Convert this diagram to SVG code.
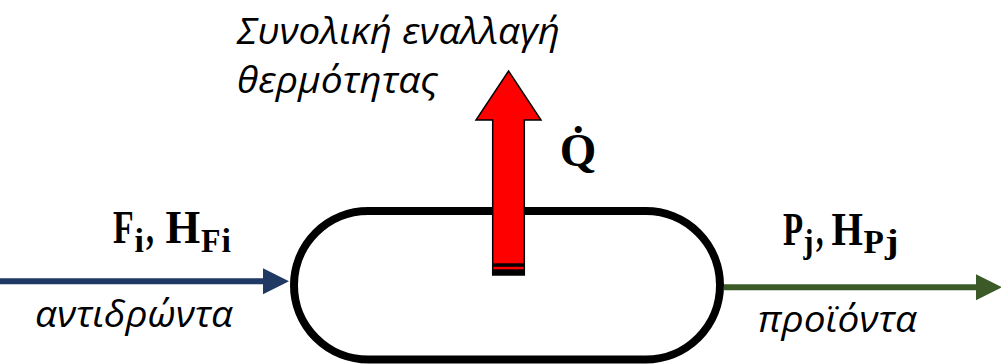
<svg xmlns="http://www.w3.org/2000/svg" width="1001" height="364" viewBox="0 0 1001 364">
  <style>
    .lbl { font-family: "Open Sans", "Noto Sans", "DejaVu Sans", sans-serif; font-style: italic; font-size: 36px; fill: #000; }
    .math { font-family: "Liberation Serif", "DejaVu Serif", serif; font-weight: bold; font-size: 47px; fill: #000; }
    .sub { font-size: 34px; }
  </style>
  <defs>
    <marker id="headBlue" markerUnits="userSpaceOnUse" markerWidth="27" markerHeight="27" refX="0" refY="13" orient="auto">
      <path d="M0,0 L26,13 L0,26 Z" fill="#203864"/>
    </marker>
    <marker id="headGreen" markerUnits="userSpaceOnUse" markerWidth="27" markerHeight="27" refX="0" refY="13" orient="auto">
      <path d="M0,0 L26,13 L0,26 Z" fill="#3B5A27"/>
    </marker>
  </defs>

  <g id="reactor">
    <rect x="294" y="211" width="426" height="148.5" rx="74.25" ry="74.25" fill="#fff" stroke="#000" stroke-width="8"/>
  </g>

  <g id="connectors">
    <g id="feed">
      <line x1="0" y1="281.3" x2="263" y2="281.3" stroke="#203864" stroke-width="6" marker-end="url(#headBlue)"/>
    </g>
    <g id="product">
      <line x1="724" y1="287.3" x2="976" y2="287.3" stroke="#3B5A27" stroke-width="6" marker-end="url(#headGreen)"/>
    </g>
    <g id="heat">
      <polygon points="508.5,71 541,120 524.3,120 524.3,275 492.7,275 492.7,120 476,120" fill="#ff0000" stroke="#000" stroke-width="1.5" stroke-linejoin="miter"/>
      <rect x="492.7" y="263.3" width="31.6" height="3.5" fill="#000"/>
      <rect x="492.7" y="269.3" width="31.6" height="5.7" fill="#000"/>
    </g>
  </g>

  <g id="label-heat">
    <text class="lbl" x="237" y="44" textLength="323" lengthAdjust="spacingAndGlyphs">Συνολική εναλλαγή</text>
    <text class="lbl" x="237" y="93" textLength="201" lengthAdjust="spacingAndGlyphs">θερμότητας</text>
    <text class="math" x="578" y="166" font-size="42" text-anchor="middle">Q̇</text>
  </g>
  <g id="label-feed">
    <text class="math" transform="translate(113,243) scale(0.72,1)">F</text>
    <text class="math sub" transform="translate(134.5,252)">i</text>
    <text class="math" transform="translate(146,243) scale(0.68,1)">,</text>
    <text class="math" transform="translate(165.5,243) scale(0.95,1)">H</text>
    <text class="math sub" transform="translate(201,252) scale(0.94,1)">F</text>
    <text class="math sub" transform="translate(221.5,252)">i</text>
    <text class="lbl" x="35" y="327" textLength="198" lengthAdjust="spacingAndGlyphs">αντιδρώντα</text>
  </g>
  <g id="label-product">
    <text class="math" transform="translate(783,245) scale(0.7,1)">P</text>
    <text class="math sub" transform="translate(803.5,253) scale(0.88,1)">j</text>
    <text class="math" transform="translate(816,245) scale(0.64,1)">,</text>
    <text class="math" transform="translate(831.5,245) scale(0.86,1)">H</text>
    <text class="math sub" transform="translate(863.5,253) scale(0.98,1)">P</text>
    <text class="math sub" transform="translate(885,253) scale(1.2,1)">j</text>
    <text class="lbl" x="758" y="332" textLength="159" lengthAdjust="spacingAndGlyphs">προϊόντα</text>
  </g>
</svg>
